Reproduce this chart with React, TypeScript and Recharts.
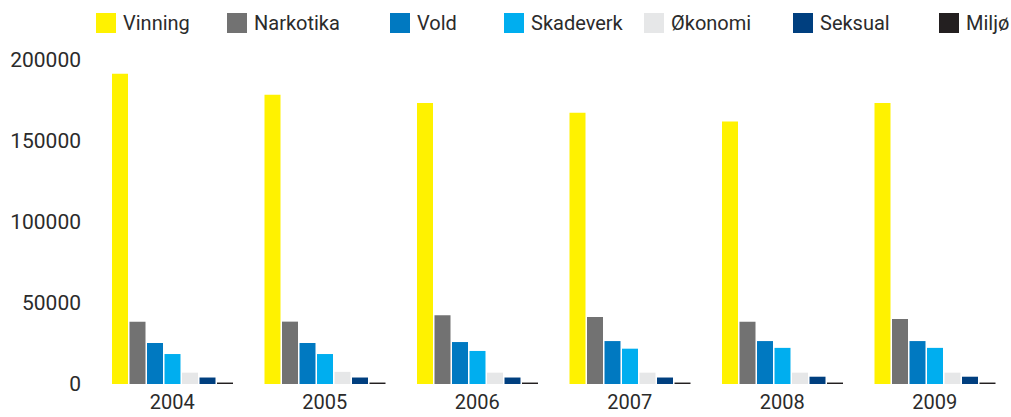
import React from 'react';
import { BarChart, Bar, XAxis, YAxis } from 'recharts';

// Categories and series
const years = ['2004', '2005', '2006', '2007', '2008', '2009'];
const seriesNames = ['Vinning', 'Narkotika', 'Vold', 'Skadeverk', 'Økonomi', 'Seksual', 'Miljø'];

const vinning = [191500, 178500, 173500, 167500, 162000, 173500];
const narkotika = [38500, 38500, 42500, 41300, 38500, 40200];
const vold = [25300, 25300, 25900, 26500, 26500, 26500];
const skadeverk = [18500, 18500, 20400, 21800, 22300, 22300];
const okonomi = [7000, 7500, 7000, 7000, 7000, 7000];
const seksual = [4000, 4000, 4000, 4000, 4500, 4500];
const miljo = [900, 900, 900, 900, 900, 900];

const yTicks = [0, 50000, 100000, 150000, 200000];

const seriesValues = [vinning, narkotika, vold, skadeverk, okonomi, seksual, miljo];

const colors = ['#FFF200', '#727272', '#0079C1', '#00AEEF', '#E6E7E8', '#003F7F', '#231F20'];

// legend item left edges (page px)
const legendLeft = [96, 227, 390, 504, 644, 793, 939];

const textColor = '#2b2b2b';
const font = 'Roboto, "Noto Sans", sans-serif';

const data = years.map((year, i) => {
  const row: Record<string, string | number> = { year };
  seriesNames.forEach((name, s) => {
    row[name] = seriesValues[s][i];
  });
  return row;
});

const Legend = () => (
  <div style={{ position: 'absolute', left: 0, top: 0, width: 1011, height: 45 }}>
    {seriesNames.map((name, i) => (
      <div
        key={name}
        style={{
          position: 'absolute',
          left: legendLeft[i],
          top: 13,
          height: 20,
          display: 'flex',
          alignItems: 'center',
          gap: 7,
          fontFamily: font,
          fontSize: 20,
          color: textColor,
          whiteSpace: 'nowrap'
        }}
      >
        <span style={{ width: 20, height: 20, background: colors[i], display: 'inline-block' }} />
        <span>{name}</span>
      </div>
    ))}
  </div>
);

const App = () => (
  <div style={{ position: 'absolute', left: 0, top: 0, width: 1011, height: 417, background: '#fff' }}>
    <Legend />
    <BarChart
      width={1011}
      height={417}
      data={data}
      margin={{ top: 60, right: 0, bottom: 0, left: 0 }}
      barSize={16}
      barGap={1.5}
    >
      <XAxis
        dataKey="year"
        height={33}
        axisLine={false}
        tickLine={false}
        tickMargin={5}
        tick={{ fill: textColor, fontSize: 20, fontFamily: font }}
      />
      <YAxis
        width={96}
        domain={[0, 200000]}
        ticks={yTicks}
        axisLine={false}
        tickLine={false}
        tickMargin={9}
        interval={0}
        tick={{ fill: textColor, fontSize: 21, fontFamily: font }}
      />
      {seriesNames.map((name, i) => (
        <Bar key={name} dataKey={name} fill={colors[i]} isAnimationActive={false} />
      ))}
    </BarChart>
  </div>
);

export default App;
